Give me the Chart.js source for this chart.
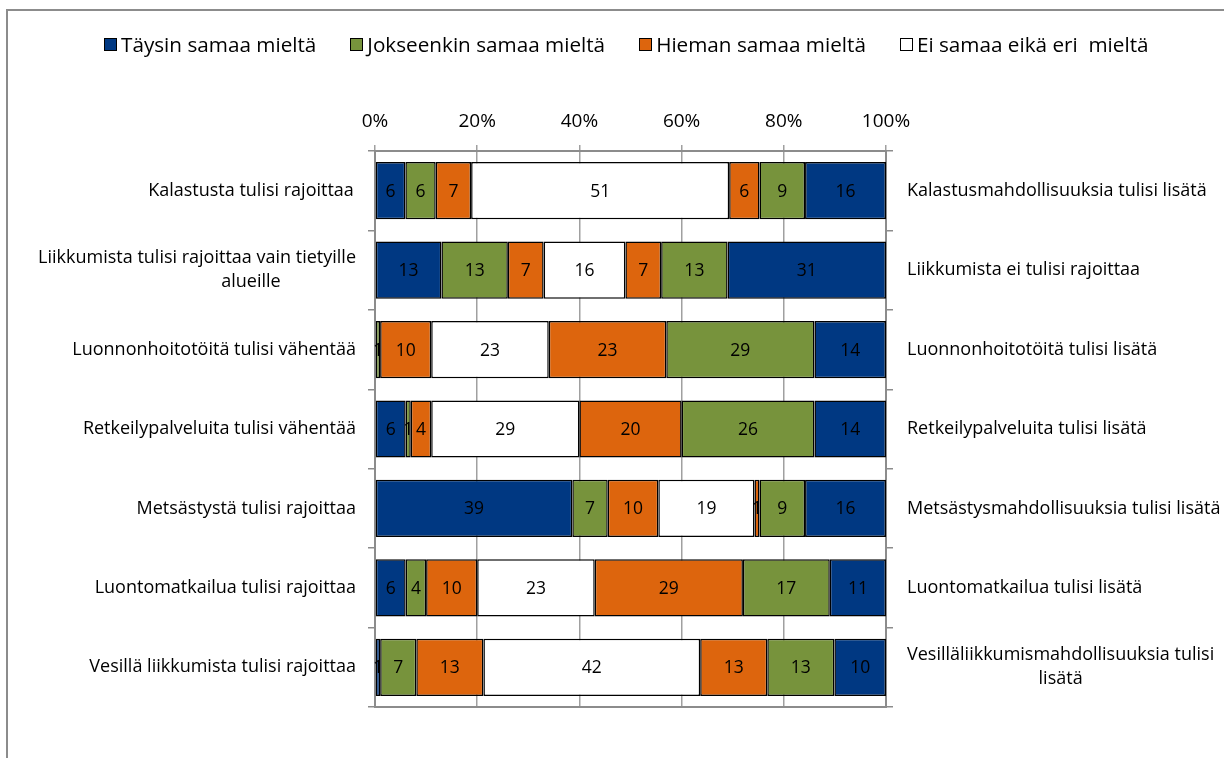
<!DOCTYPE html>
<html>
<head>
<meta charset="utf-8">
<script src="https://cdn.jsdelivr.net/npm/chart.js@4.4.0/dist/chart.umd.min.js"></script>
<style>
  html, body { margin: 0; padding: 0; background: #fff; }
  body { width: 1224px; height: 758px; position: relative; overflow: hidden; font-family: "Open Sans", "Liberation Sans", sans-serif; }
  #frame { position: absolute; left: 6px; top: 9px; width: 1300px; height: 800px; border: 2px solid #8c8c8c; }
  #legend { position: absolute; left: 104px; top: 31px; display: flex; gap: 34px; font-size: 20.7px; line-height: 26px; color: #000; }
  .item { display: flex; align-items: center; white-space: pre; }
  .box { width: 11px; height: 11px; border: 1.5px solid #000; margin-right: 4px; }
  #chart { position: absolute; left: 0; top: 0; }
</style>
</head>
<body>
<div id="frame"></div>
<canvas id="chart" width="1224" height="758"></canvas>
<div id="legend"></div>
<script>
const leftLabels = [
  "Kalastusta tulisi rajoittaa",
  ["Liikkumista tulisi rajoittaa vain tietyille", "alueille"],
  "Luonnonhoitotöitä tulisi vähentää",
  "Retkeilypalveluita tulisi vähentää",
  "Metsästystä tulisi rajoittaa",
  "Luontomatkailua tulisi rajoittaa",
  "Vesillä liikkumista tulisi rajoittaa"
];
const rightLabels = [
  "Kalastusmahdollisuuksia tulisi lisätä",
  "Liikkumista ei tulisi rajoittaa",
  "Luonnonhoitotöitä tulisi lisätä",
  "Retkeilypalveluita tulisi lisätä",
  "Metsästysmahdollisuuksia tulisi lisätä",
  "Luontomatkailua tulisi lisätä",
  ["Vesilläliikkumismahdollisuuksia tulisi", "lisätä"]
];
const seriesNames = ["Täysin samaa mieltä", "Jokseenkin samaa mieltä", "Hieman samaa mieltä", "Ei samaa eikä eri  mieltä",
  "Hieman samaa mieltä", "Jokseenkin samaa mieltä", "Täysin samaa mieltä"];
const seriesColors = ["#003882", "#77933c", "#dd650d", "#ffffff", "#dd650d", "#77933c", "#003882"];

// left side (agree with restricting) ... neutral ... right side (agree with increasing)
const taysinLeft = [6, 13, 0, 6, 39, 6, 1];
const jokseenkinLeft = [6, 13, 1, 1, 7, 4, 7];
const hiemanLeft = [7, 7, 10, 4, 10, 10, 13];
const neutral = [51, 16, 23, 29, 19, 23, 42];
const hiemanRight = [6, 7, 23, 20, 1, 29, 13];
const jokseenkinRight = [9, 13, 29, 26, 9, 17, 13];
const taysinRight = [16, 31, 14, 14, 16, 11, 10];
const tickStep = 20;

const series = [taysinLeft, jokseenkinLeft, hiemanLeft, neutral, hiemanRight, jokseenkinRight, taysinRight];
const rowSums = leftLabels.map((_, i) => series.reduce((a, s) => a + s[i], 0));

const FONT = "'Open Sans', 'Liberation Sans', sans-serif";
const gridColor = "#a0a0a0";
const axisColor = "#8c8c8c";

// legend (only the first four series)
const legend = document.getElementById("legend");
seriesNames.slice(0, 4).forEach((name, i) => {
  const item = document.createElement("div");
  item.className = "item";
  item.innerHTML = `<span class="box" style="background:${seriesColors[i]}"></span>${name}`;
  legend.appendChild(item);
});

// numbers inside the segments
const valueLabels = {
  id: "valueLabels",
  afterDatasetsDraw(chart) {
    const ctx = chart.ctx;
    ctx.save();
    ctx.font = "17.5px " + FONT;
    ctx.fillStyle = "#000";
    ctx.textAlign = "center";
    ctx.textBaseline = "middle";
    chart.data.datasets.forEach((ds, di) => {
      chart.getDatasetMeta(di).data.forEach((bar, i) => {
        const v = ds.raw[i];
        if (!v) return;
        const c = bar.getCenterPoint();
        ctx.fillText(v, c.x, c.y + 1);
      });
    });
    ctx.restore();
  }
};

// category text on both sides
const sideLabels = {
  id: "sideLabels",
  afterDraw(chart) {
    const ctx = chart.ctx;
    const yl = chart.scales.y, yr = chart.scales.y2;
    const lineH = 24;
    ctx.save();
    ctx.font = "18px " + FONT;
    ctx.fillStyle = "#000";
    ctx.textAlign = "center";
    ctx.textBaseline = "middle";
    leftLabels.forEach((lab, i) => {
      const lines = Array.isArray(lab) ? lab : [lab];
      const cy = yl.getPixelForValue(i);
      lines.forEach((ln, k) => {
        const w = ctx.measureText(ln).width;
        const cx = Math.min(251, yl.right - 19 - w / 2);
        ctx.fillText(ln, cx, cy + (k - (lines.length - 1) / 2) * lineH);
      });
    });
    rightLabels.forEach((lab, i) => {
      const lines = Array.isArray(lab) ? lab : [lab];
      const cy = yr.getPixelForValue(i);
      const maxW = Math.max(...lines.map(l => ctx.measureText(l).width));
      const cx = yr.left + 21 + maxW / 2;
      lines.forEach((ln, k) => {
        ctx.fillText(ln, cx, cy + (k - (lines.length - 1) / 2) * lineH);
      });
    });
    ctx.restore();
  }
};

new Chart(document.getElementById("chart"), {
  type: "bar",
  data: {
    labels: leftLabels,
    datasets: series.map((s, si) => ({
      label: seriesNames[si],
      raw: s,
      data: s.map((v, i) => v / rowSums[i] * 100),
      backgroundColor: seriesColors[si],
      borderColor: "#000",
      borderWidth: 1.5,
      borderSkipped: false,
      barPercentage: 0.72,
      categoryPercentage: 1,
      xAxisID: "x",
      yAxisID: "y"
    }))
  },
  options: {
    indexAxis: "y",
    responsive: false,
    devicePixelRatio: 1,
    animation: false,
    layout: { padding: 0 },
    plugins: { legend: { display: false }, tooltip: { enabled: false } },
    scales: {
      x: {
        position: "top",
        stacked: true,
        min: 0,
        max: 100,
        afterFit: s => { s.height = 151; },
        grid: { color: gridColor, lineWidth: 1.5, tickLength: 6 },
        border: { color: axisColor, width: 2 },
        ticks: { stepSize: tickStep, padding: 12, color: "#000", font: { family: FONT, size: 19 }, callback: v => v + "%" }
      },
      x2: {
        position: "bottom",
        min: 0,
        max: 100,
        afterFit: s => { s.height = 51; },
        grid: { display: false },
        border: { color: axisColor, width: 2 },
        ticks: { display: false }
      },
      y: {
        stacked: true,
        afterFit: s => { s.width = 375; },
        grid: { offset: true, drawOnChartArea: false, tickLength: 7, color: axisColor, lineWidth: 1.5 },
        border: { color: axisColor, width: 2 },
        ticks: { display: false }
      },
      y2: {
        type: "category",
        position: "right",
        labels: rightLabels,
        offset: true,
        afterFit: s => { s.width = 1224 - 886; },
        grid: { offset: true, drawOnChartArea: false, tickLength: 7, color: axisColor, lineWidth: 1.5 },
        border: { color: axisColor, width: 2 },
        ticks: { display: false }
      }
    }
  },
  plugins: [valueLabels, sideLabels]
});
</script>
</body>
</html>
